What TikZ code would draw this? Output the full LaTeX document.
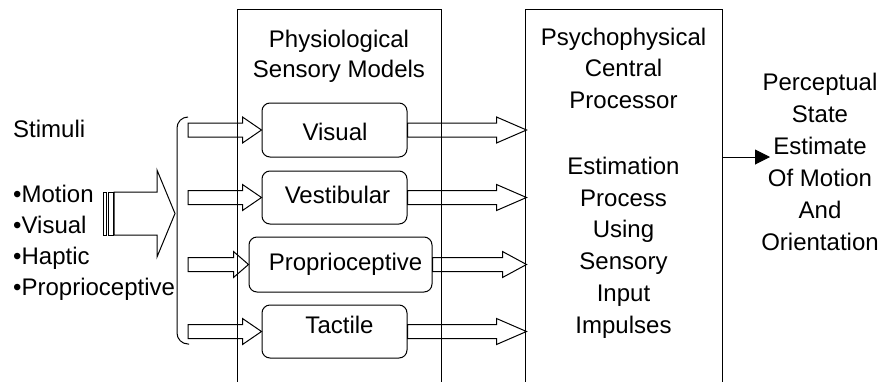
\documentclass[tikz,border=0pt]{standalone}
\usepackage{fontspec}
\setmainfont{Liberation Sans}
\usetikzlibrary{calc,arrows.meta}

\tikzset{
  frame/.style={draw, line width=1pt, inner sep=0pt, anchor=north},
  sensor/.style={draw, line width=1pt, rounded corners=8pt, inner sep=0pt},
  caption/.style={font=\fontsize{24}{31.5}\selectfont, inner sep=0pt},
  hollow/.style={draw, line width=1pt, line join=miter},
}

% hollow block arrow: from the x of #1 to the point #2, head length #3 (pt)
\newcommand\hollowarrow[3]{%
  \draw[hollow] let \p1=#1, \p2=#2 in
    (\x1,\y2+7pt) -- (\x2-#3pt,\y2+7pt) -- (\x2-#3pt,\y2+13pt) -- (\x2,\y2)
    -- (\x2-#3pt,\y2-13pt) -- (\x2-#3pt,\y2-7pt) -- (\x1,\y2-7pt) -- cycle;}

\begin{document}
\begin{tikzpicture}[x=1pt,y=-1pt]
\useasboundingbox (0,0) rectangle (884,381);
\clip (0,0) rectangle (884,381);

% the two processing stages, open at the bottom
\node[frame, minimum width=204pt, minimum height=420pt] (models) at (339,9) {};
\node[frame, minimum width=197pt, minimum height=420pt] (central) at (623.5,9) {};

\node[caption, anchor=north, align=center, font=\fontsize{24}{30.7}\selectfont]
  (modelstitle) at (339,29.5) {Physiological\\Sensory Models};
\node[caption, anchor=north, align=center, font=\fontsize{24}{31.6}\selectfont]
  (centraltitle) at (623.5,27.8) {Psychophysical\\Central\\Processor};
\node[caption, anchor=north, align=center, font=\fontsize{24}{31.8}\selectfont]
  (centralbody) at (623.5,156.8) {Estimation\\Process\\Using\\Sensory\\Input\\Impulses};

% sensory models
\node[sensor, minimum width=145pt, minimum height=54pt] (visual) at (334.5,130) {};
\node[sensor, minimum width=145pt, minimum height=53pt] (vestib) at (334.5,197.5) {};
\node[sensor, minimum width=183pt, minimum height=55pt] (propr) at (340.5,264.5) {};
\node[sensor, minimum width=145pt, minimum height=53pt] (tactile) at (334.5,331.5) {};

\node[caption, anchor=base] (visualtext) at (335,140) {Visual};
\node[caption, anchor=base] (vestibtext) at (337.5,203) {Vestibular};
\node[caption, anchor=base] (proprtext) at (345.5,270) {Proprioceptive};
\node[caption, anchor=base] (tactiletext) at (339.5,333) {Tactile};

% stimuli
\node[caption, anchor=base west] (stimuli) at (13,137) {Stimuli};
\node[caption, anchor=north west, align=left, font=\fontsize{24}{31}\selectfont]
  (stimlist) at (13,184.8) {•Motion\\•Visual\\•Haptic\\•Proprioceptive};

% brace gathering the stimuli
\draw[line width=1pt, rounded corners=11pt] (188,117) -- (177,117) -- (177,344) -- (189,344);
\coordinate (brace) at (188,230);

% striped block arrow into the brace
\coordinate (bigtip) at (175,213.5);
\draw[hollow] (103,192) rectangle (106,235);
\draw[hollow] (108,192) rectangle (113,235);
\draw[hollow] (114,192) -- (157,192) -- (157,170) -- (bigtip) -- (157,257)
  -- (157,235) -- (114,235) -- cycle;

% inputs to the sensory models
\hollowarrow{(brace)}{(visual.west)}{19}
\hollowarrow{(brace)}{(vestib.west)}{19}
\hollowarrow{(brace)}{(propr.west)}{15}
\hollowarrow{(brace)}{(tactile.west)}{19}

% outputs to the central processor
\coordinate (vistip) at ($(visual.east -| central.west)+(2,0)$);
\coordinate (vestip) at ($(vestib.east -| central.west)+(2,0)$);
\coordinate (protip) at ($(propr.east -| central.west)+(2,0)$);
\coordinate (tactip) at ($(tactile.east -| central.west)+(2,0)$);
\hollowarrow{(visual.east)}{(vistip)}{30}
\hollowarrow{(vestib.east)}{(vestip)}{30}
\hollowarrow{(propr.east)}{(protip)}{24}
\hollowarrow{(tactile.east)}{(tactip)}{30}

% perceptual estimate
\coordinate (outtip) at (770,157);
\draw[line width=1pt, -{Triangle[length=15pt,width=15pt]}] (central.east |- outtip) -- (outtip);
\node[caption, anchor=north, align=center, font=\fontsize{24}{32}\selectfont]
  (percept) at (820,72.8) {Perceptual\\State\\Estimate\\Of Motion\\And\\Orientation};
\end{tikzpicture}
\end{document}
